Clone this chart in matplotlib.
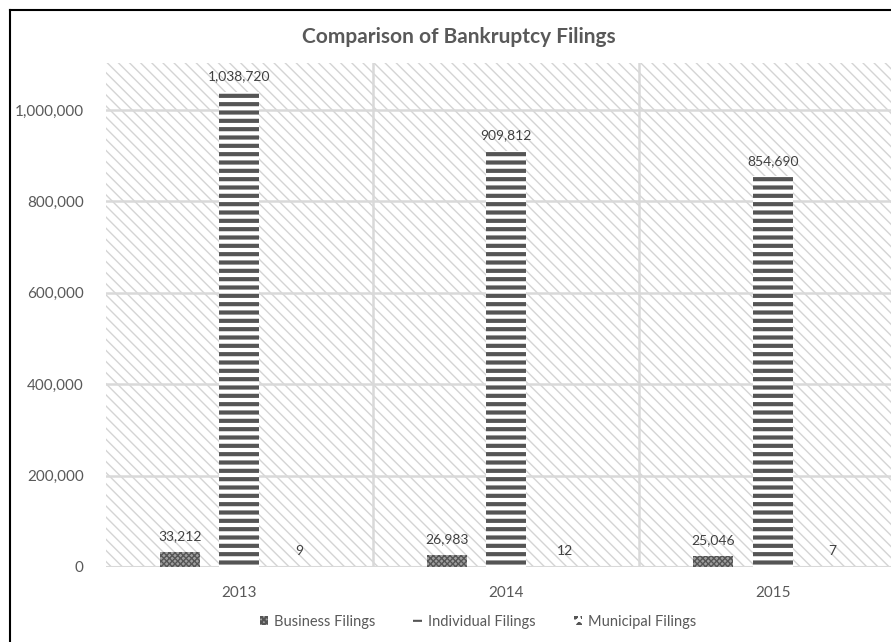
import matplotlib.pyplot as plt
import numpy as np
from matplotlib.lines import Line2D
from matplotlib.patches import Rectangle

years = ["2013", "2014", "2015"]
business = [33212, 26983, 25046]
individual = [1038720, 909812, 854690]
municipal = [9, 12, 7]
y_ticks = [0, 200000, 400000, 600000, 800000, 1000000]

plt.rcParams['font.family'] = ['Lato', 'DejaVu Sans']
text_col = "#595959"

fig = plt.figure(figsize=(8.91, 6.42), dpi=100)
fig.patch.set_facecolor("white")
# outer frame: only the left and top edges are inside the picture
fx = 9.5 / 891
fy = 1 - 9.5 / 642
fig.lines.append(Line2D([fx, fx], [0, fy], transform=fig.transFigure,
                        color="black", linewidth=1.5))
fig.lines.append(Line2D([fx, 1], [fy, fy], transform=fig.transFigure,
                        color="black", linewidth=1.5))

ax = fig.add_axes([106 / 891, 75 / 642, 800 / 891, 504 / 642])
ax.set_xlim(-0.5, 2.5)
ax.set_ylim(0, 1103000)

# hatched background of the plot area
bg = Rectangle((0, 0), 1, 1, transform=ax.transAxes, facecolor="white",
               edgecolor="#d4d4d4", hatch="\\\\\\", linewidth=0, zorder=0)
ax.add_patch(bg)

for s in ax.spines.values():
    s.set_visible(False)
ax.axhline(0, color="#d9d9d9", linewidth=1.5, zorder=1)
for yv in y_ticks[1:]:
    ax.axhline(yv, color="#d9d9d9", linewidth=1.8, zorder=1)
for xv in [0.5, 1.5]:
    ax.axvline(xv, color="#d9d9d9", linewidth=1.8, zorder=1)

x = np.arange(len(years))
w = 0.15
off = 0.223

plt.rcParams['hatch.linewidth'] = 1.0
b1 = ax.bar(x - off, business, w, facecolor="#a0a0a0", edgecolor="#555555",
            hatch="xxxxxx", linewidth=0, zorder=3, label="Business Filings")
plt.rcParams['hatch.linewidth'] = 3.0
b2 = ax.bar(x, individual, w, facecolor="white", edgecolor="#555555",
            hatch="--", linewidth=0, zorder=3, label="Individual Filings")
plt.rcParams['hatch.linewidth'] = 1.5
b3 = ax.bar(x + off, municipal, w, facecolor="white", edgecolor="#555555",
            hatch="oo", linewidth=0, zorder=3, label="Municipal Filings")

for bars, vals in [(b1, business), (b2, individual), (b3, municipal)]:
    ax.bar_label(bars, labels=["{:,}".format(v) for v in vals], padding=7,
                 fontsize=10, color="#404040")

ax.set_xticks(x)
ax.set_xticklabels(years, fontsize=11, color=text_col)
ax.set_yticks(y_ticks)
ax.set_yticklabels(["{:,}".format(v) for v in y_ticks], fontsize=11, color=text_col)
ax.tick_params(axis="both", length=0)
ax.tick_params(axis="y", pad=16)
ax.tick_params(axis="x", pad=14)

fig.text(459 / 891, 1 - 37 / 642, "Comparison of Bankruptcy Filings",
         ha="center", va="center", fontsize=15, fontweight="bold", color=text_col)

fig.legend(handles=[b1, b2, b3], loc="center", bbox_to_anchor=(478 / 891, 1 - 622 / 642),
           ncol=3, frameon=False, fontsize=10.5, labelcolor=text_col,
           handlelength=0.6, handleheight=0.6, handletextpad=0.4, columnspacing=2.6)

fig.savefig("out.png", dpi=100, facecolor="white")
